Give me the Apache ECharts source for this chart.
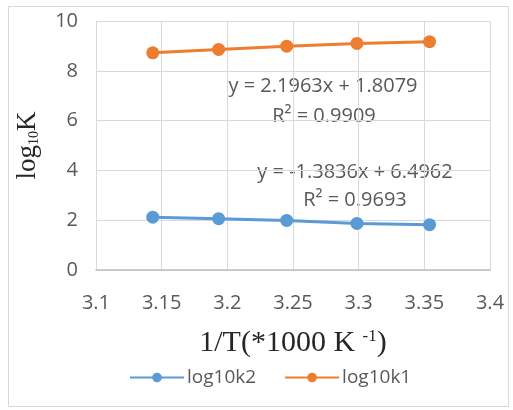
<!DOCTYPE html>
<html><head><meta charset="utf-8">
<script src="https://cdn.jsdelivr.net/npm/echarts@6/dist/echarts.min.js"></script>
<style>html,body{margin:0;padding:0;background:#fff}#c{width:513px;height:410px}</style>
</head><body><div id="c"></div>
<script>
const xValues = [3.1432, 3.1934, 3.2452, 3.2987, 3.3540];
const log10k2 = [2.12, 2.06, 1.99, 1.87, 1.82];
const log10k1 = [8.72, 8.86, 8.99, 9.10, 9.17];
const xTicks = {min: 3.1, max: 3.4, interval: 0.05};
const yTicks = {min: 0, max: 10, interval: 2};
const eq1 = ['y = 2.1963x + 1.8079', 'R² = 0.9909'];
const eq2 = ['y = -1.3836x + 6.4962', 'R² = 0.9693'];

const chart = echarts.init(document.getElementById('c'));
const textColor = '#595959';
const sans = '"Open Sans", "Liberation Sans", sans-serif';
const serif = '"Liberation Serif", "Times New Roman", serif';
chart.setOption({
  animation: false,
  grid: {left: 96, right: 23, top: 21, bottom: 140},
  xAxis: {
    type: 'value', min: xTicks.min, max: xTicks.max, interval: xTicks.interval,
    axisLine: {show: true, lineStyle: {color: '#bfbfbf', width: 1.5}},
    axisTick: {show: false},
    splitLine: {show: true, lineStyle: {color: '#d9d9d9', width: 1}},
    axisLabel: {color: textColor, fontSize: 20, fontFamily: sans, margin: 23},
    name: '{a|1/T(*1000 K }{s|-1}{a|)}',
    nameLocation: 'middle', nameGap: 58,
    nameTextStyle: {rich: {
      a: {fontFamily: serif, fontSize: 30, color: '#262626'},
      s: {fontFamily: serif, fontSize: 17, color: '#262626', verticalAlign: 'top', padding: [0,0,12,0]}
    }}
  },
  yAxis: {
    type: 'value', min: yTicks.min, max: yTicks.max, interval: yTicks.interval,
    axisLine: {show: false},
    axisTick: {show: false},
    splitLine: {show: true, lineStyle: {color: '#d9d9d9', width: 1}},
    axisLabel: {color: textColor, fontSize: 20, fontFamily: sans, margin: 18},
    name: '{a|log}{s|10}{a|K}',
    nameLocation: 'middle', nameGap: 55, nameRotate: 90,
    nameTextStyle: {rich: {
      a: {fontFamily: serif, fontSize: 27, color: '#262626'},
      s: {fontFamily: serif, fontSize: 14, color: '#262626', verticalAlign: 'bottom', padding: [10,0,0,0]}
    }}
  },
  legend: {
    bottom: 18, left: 124, itemWidth: 54, itemHeight: 12, itemGap: 28,
    textStyle: {color: textColor, fontSize: 19, fontFamily: sans, padding: [0,0,0,-2]},
    data: ['log10k2', 'log10k1']
  },
  series: [
    {name: 'log10k2', type: 'line', data: xValues.map((x,i)=>[x, log10k2[i]]),
     symbol: 'circle', symbolSize: 13, color: '#5b9bd5', lineStyle: {width: 3}},
    {name: 'log10k1', type: 'line', data: xValues.map((x,i)=>[x, log10k1[i]]),
     symbol: 'circle', symbolSize: 13, color: '#ed7d31', lineStyle: {width: 3}}
  ],
  graphic: [
    {type: 'rect', shape: {x: 8.5, y: 6.5, width: 500, height: 400}, style: {fill: 'none', stroke: '#d9d9d9', lineWidth: 1}, silent: true},
    {type: 'text', x: 323, y: 86, style: {text: eq1[0], fill: textColor, font: '20px ' + sans, align: 'center', verticalAlign: 'middle'}},
    {type: 'text', x: 324, y: 116, style: {text: eq1[1], fill: textColor, font: '20px ' + sans, align: 'center', verticalAlign: 'middle'}},
    {type: 'text', x: 355, y: 172, style: {text: eq2[0], fill: textColor, font: '20px ' + sans, align: 'center', verticalAlign: 'middle'}},
    {type: 'text', x: 355, y: 200, style: {text: eq2[1], fill: textColor, font: '20px ' + sans, align: 'center', verticalAlign: 'middle'}}
  ]
});
</script></body></html>
